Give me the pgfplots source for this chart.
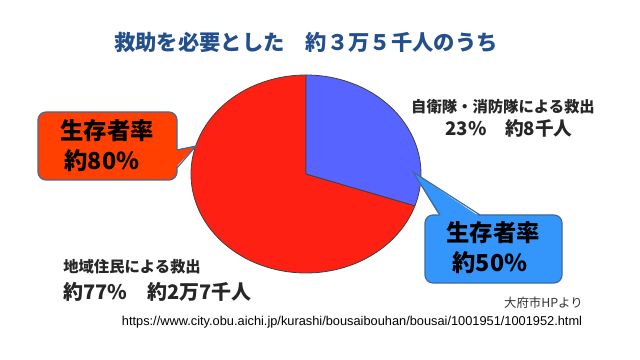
\documentclass[border=0pt]{standalone}
\usepackage{pgfplots}
\pgfplotsset{compat=1.18}
\usepackage{fontspec}
\setmainfont{Liberation Sans}
\newfontfamily\jp{Noto Sans CJK JP}
\definecolor{piered}{RGB}{255,32,20}
\definecolor{pieblue}{RGB}{88,100,255}
\definecolor{calloutred}{RGB}{255,64,0}
\definecolor{calloutblue}{RGB}{52,150,250}
\definecolor{calloutedge}{RGB}{65,105,155}
\definecolor{titleblue}{RGB}{35,80,140}
% shares of the pie as drawn (percent)
\def\blueshare{30.2}
\def\redshare{69.8}
\begin{document}
\begin{tikzpicture}
\begin{axis}[width=480pt,height=270pt,scale only axis,
  xmin=0,xmax=640,ymin=0,ymax=360,y dir=reverse,
  hide axis,clip=false]
\path (axis cs:0,0) rectangle (axis cs:640,360);
\pgfmathsetmacro{\split}{90-3.6*\blueshare}
\pgfmathsetmacro{\redend}{90+3.6*\redshare}
% red slice
\addplot[fill=piered,draw=black!75,line width=0.6pt,domain=90:\redend,samples=150,variable=\t]
  ({306+115*cos(\t)},{174-99*sin(\t)}) -- (axis cs:306,174) -- cycle;
% blue slice
\addplot[fill=pieblue,draw=black!75,line width=0.6pt,domain=\split:90,samples=60,variable=\t]
  ({306+115*cos(\t)},{174-99*sin(\t)}) -- (axis cs:306,174) -- cycle;

% title
\node[text=titleblue,font=\jp\bfseries\fontsize{16}{18}\selectfont] at (axis cs:306,42) {救助を必要とした　約３万５千人のうち};

% left callout
\draw[fill=calloutred,draw=calloutedge,line width=0.9pt,rounded corners=6pt] (axis cs:38,112) rectangle (axis cs:177,180);
\fill[calloutred] (axis cs:175,150) -- (axis cs:196,146) -- (axis cs:175,168) -- cycle;
\draw[calloutedge,line width=0.9pt] (axis cs:177,150) -- (axis cs:196,146) -- (axis cs:177,168);
\node[font=\jp\bfseries\fontsize{17.5}{20}\selectfont] at (axis cs:107,131) {生存者率};
\node[font=\jp\bfseries\fontsize{17.5}{20}\selectfont] at (axis cs:102,161) {約80\%};

% right callout
\draw[fill=calloutblue,draw=calloutedge,line width=0.9pt,rounded corners=6pt] (axis cs:425,215) rectangle (axis cs:562,283);
\fill[calloutblue] (axis cs:440,217) -- (axis cs:413,172) -- (axis cs:480,217) -- cycle;
\draw[calloutedge,line width=0.9pt] (axis cs:440,215) -- (axis cs:413,172) -- (axis cs:480,215);
\node[font=\jp\bfseries\fontsize{17.5}{20}\selectfont] at (axis cs:493,233) {生存者率};
\node[font=\jp\bfseries\fontsize{17.5}{20}\selectfont] at (axis cs:490,263) {約50\%};

% top-right labels
\node[text=black!85,font=\jp\bfseries\fontsize{11.5}{13}\selectfont] at (axis cs:503,107) {自衛隊・消防隊による救出};
\node[text=black!85,font=\jp\bfseries\fontsize{14}{16}\selectfont] at (axis cs:509,128) {23\%　約8千人};

% bottom-left labels
\node[anchor=west,inner sep=0pt,text=black!85,font=\jp\bfseries\fontsize{11.5}{13}\selectfont] at (axis cs:63,267) {地域住民による救出};
\node[anchor=west,inner sep=0pt,text=black!85,font=\jp\bfseries\fontsize{15}{17}\selectfont] at (axis cs:63,292) {約77\%　約2万7千人};

% source
\node[anchor=east,inner sep=0pt,text=black!80,font=\jp\fontsize{9.3}{11}\selectfont] at (axis cs:583,303) {大府市HPより};
\node[inner sep=0pt,font=\fontsize{9.6}{11}\selectfont] at (axis cs:352,322) {https://www.city.obu.aichi.jp/kurashi/bousaibouhan/bousai/1001951/1001952.html};
\end{axis}
\end{tikzpicture}
\end{document}
